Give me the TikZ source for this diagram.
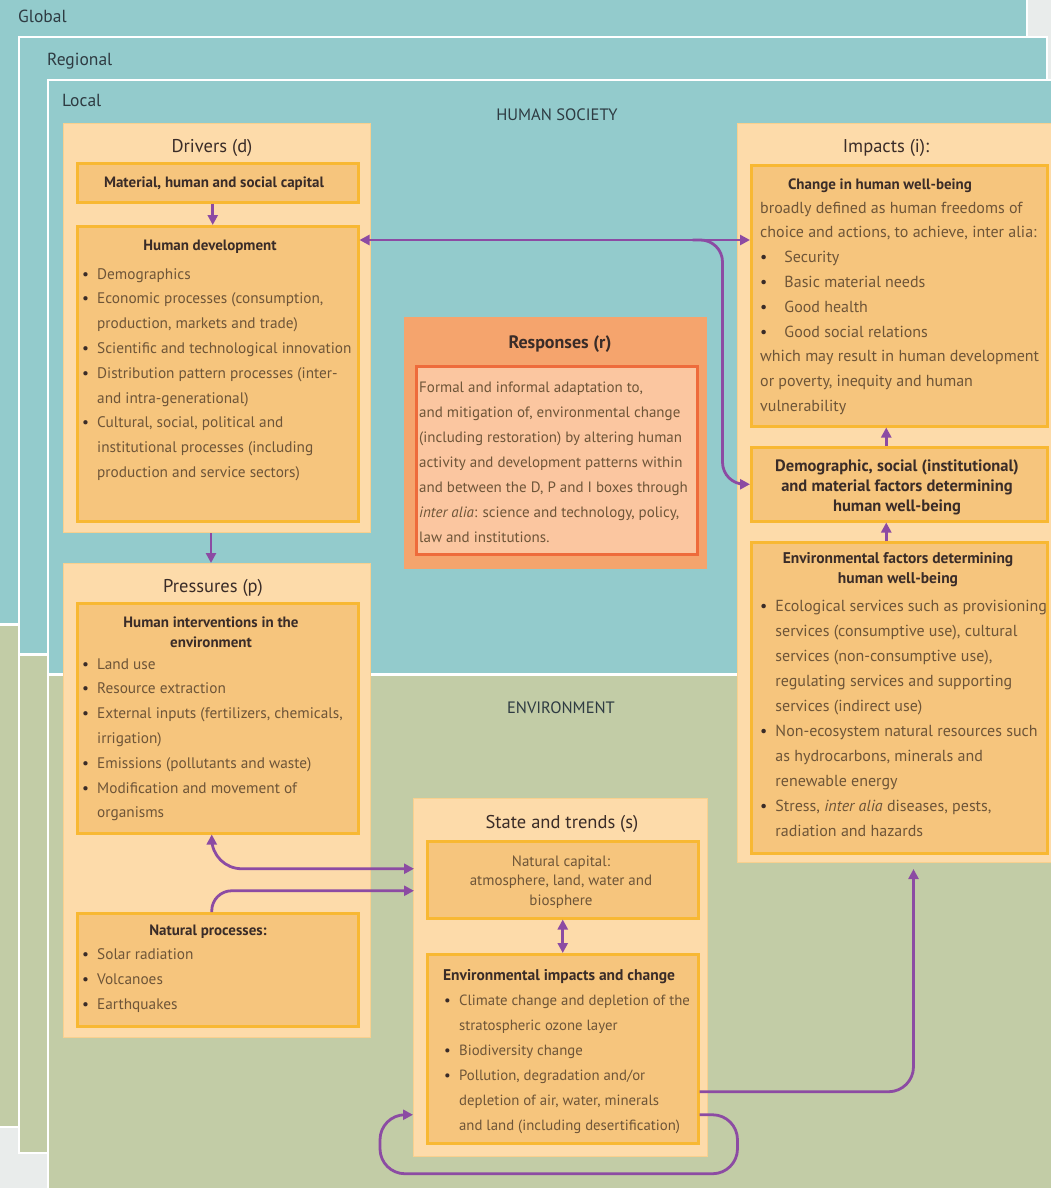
\documentclass[tikz,border=0pt]{standalone}
\usepackage{fontspec}
\setmainfont{PT Sans}
\usetikzlibrary{arrows.meta,calc}
\definecolor{teal1}{HTML}{93CBCC}
\definecolor{green1}{HTML}{C2CCA6}
\definecolor{bgg}{HTML}{E9ECEB}
\definecolor{peach}{HTML}{FDDBAA}
\definecolor{peachb}{HTML}{F9D08E}
\definecolor{inner}{HTML}{F6C57D}
\definecolor{innerb}{HTML}{F8B833}
\definecolor{rout}{HTML}{F5A46D}
\definecolor{rin}{HTML}{FBC6A0}
\definecolor{rinb}{HTML}{EE6B3B}
\definecolor{purp}{HTML}{8C4BA3}
\definecolor{ttl}{HTML}{3A2C28}
\definecolor{bod}{HTML}{6E5538}
\definecolor{lbl}{HTML}{2E3B42}
\newcommand\bodyf{\fontsize{15.3}{24.8}\selectfont}
\newcommand\headf{\fontsize{18.5}{20}\selectfont}
\newcommand\boldf{\fontsize{15}{20}\selectfont\bfseries}
\newcommand\bl[1][15pt]{\makebox[#1][l]{\textcolor{ttl}{\textbullet}}}
\newcommand\ind[1][15pt]{\hspace*{#1}}
\begin{document}
\begin{tikzpicture}[x=1pt,y=-1pt,
 outerbox/.style={draw=peachb, fill=peach, line width=1pt, anchor=north west, inner sep=0pt},
 innerbox/.style={draw=innerb, fill=inner, line width=2.5pt, anchor=north west, inner sep=0pt},
 conn/.style={draw=purp, line width=2.8pt, -{Triangle[length=10pt,width=10pt]}},
 conn2/.style={draw=purp, line width=2.8pt, {Triangle[length=10pt,width=10pt]}-{Triangle[length=10pt,width=10pt]}},
 body/.style={font=\bodyf, text=bod, align=left, anchor=base west, inner sep=0pt},
 head/.style={font=\headf, text=ttl, anchor=base, inner sep=0pt},
 bhead/.style={font=\boldf, text=ttl, align=center, anchor=base, inner sep=0pt},
 lab/.style={font=\fontsize{17.5}{18}\selectfont, text=lbl, anchor=base west, inner sep=0pt}
]
\useasboundingbox (0,0) rectangle (1051,1188);
\clip (0,0) rectangle (1051,1188);
\fill[bgg] (0,0) rectangle (1051,1188);
% Global
\fill[teal1] (-5,-5) rectangle (1027,624);
\fill[green1] (-5,624) rectangle (1027,1127);
\draw[white, line width=3pt] (-5,624) -- (1027,624);
\draw[white, line width=2.5pt] (-5,-5) rectangle (1027,1127);
% Regional
\fill[teal1] (19,37) rectangle (1047,654);
\fill[green1] (19,654) rectangle (1047,1153);
\draw[white, line width=3pt] (19,654) -- (1047,654);
\draw[white, line width=2.5pt] (19,37) rectangle (1047,1153);
% Local
\fill[teal1] (48,80) rectangle (1060,674);
\fill[green1] (48,674) rectangle (1060,1195);
\draw[white, line width=3pt] (48,674) -- (1060,674);
\draw[white, line width=2.5pt] (48,80) rectangle (1060,1195);
\node[lab] (lg) at (18,23) {Global};
\node[lab] (lr) at (47,66) {Regional};
\node[lab] (ll) at (62,107) {Local};
\node[font=\fontsize{16.5}{18}\selectfont, text=lbl, anchor=base] (hs) at (557,121) {HUMAN SOCIETY};
\node[font=\fontsize{16.5}{18}\selectfont, text=lbl, anchor=base] (en) at (561,713) {ENVIRONMENT};
% outer boxes
\node[outerbox, minimum width=307pt, minimum height=409pt] (drv) at (63,123) {};
\node[outerbox, minimum width=307pt, minimum height=474pt] (prs) at (63,563) {};
\node[outerbox, minimum width=330pt, minimum height=739pt] (imp) at (737,123) {};
\node[outerbox, minimum width=294pt, minimum height=358pt] (st) at (413,798) {};
\node[draw=rout, fill=rout, line width=1pt, anchor=north west, inner sep=0pt, minimum width=302pt, minimum height=251pt] (resp) at (404,317) {};
% inner boxes
\node[innerbox, minimum width=281pt, minimum height=39pt] (mat) at (76,162) {};
\node[innerbox, minimum width=281pt, minimum height=295pt] (hd) at (76,225) {};
\node[innerbox, minimum width=281pt, minimum height=230pt] (hi) at (76,602) {};
\node[innerbox, minimum width=281pt, minimum height=113pt] (np) at (76,912) {};
\node[draw=rinb, fill=rin, line width=2.5pt, anchor=north west, inner sep=0pt, minimum width=281pt, minimum height=188pt] (resi) at (415,365) {};
\node[innerbox, minimum width=296pt, minimum height=261pt] (chg) at (750,164) {};
\node[innerbox, minimum width=296pt, minimum height=74pt] (dem) at (750,446) {};
\node[innerbox, minimum width=296pt, minimum height=311pt] (envf) at (750,541) {};
\node[innerbox, minimum width=271pt, minimum height=77pt] (nc) at (426,840) {};
\node[innerbox, minimum width=271pt, minimum height=189pt] (eic) at (426,953) {};
% titles (multi-line nodes are anchored at the baseline of their last line)
\node[head] (tdrv) at (212,153) {Drivers (d)};
\node[head] (tprs) at (213,592) {Pressures (p)};
\node[head] (timp) at (886,153) {Impacts (i):};
\node[head] (tst) at (562,828) {State and trends (s)};
\node[head, font=\fontsize{18}{20}\selectfont\bfseries] (tresp) at (560,348) {Responses (r)};
\node[bhead] (tmat) at (214,187) {Material, human and social capital};
\node[bhead] (thd) at (210,250) {Human development};
\node[bhead] (thi) at (211,647) {Human interventions in the\\environment};
\node[bhead] (tnp) at (208,935) {Natural processes:};
\node[bhead] (tchg) at (880,189) {Change in human well-being};
\node[bhead, font=\fontsize{16.5}{20}\selectfont\bfseries] (tdem) at (897,511) {Demographic, social (institutional)\\and material factors determining\\human well-being};
\node[bhead, font=\fontsize{15.5}{20}\selectfont\bfseries] (tenvf) at (898,583) {Environmental factors determining\\human well-being};
\node[bhead, font=\fontsize{15.5}{20}\selectfont\bfseries] (teic) at (559,980) {Environmental impacts and change};
\node[font=\fontsize{15}{19.5}\selectfont, text=bod, align=center, anchor=base, inner sep=0pt] (tnc) at (561,905) {Natural capital:\\atmosphere, land, water and\\biosphere};
% body texts
\node[body] (bhd) at (82,477.4) {\bl Demographics\\
\bl Economic processes (consumption,\\
\ind production, markets and trade)\\
\bl Scientific and technological innovation\\
\bl Distribution pattern processes (inter-\\
\ind and intra-generational)\\
\bl Cultural, social, political and\\
\ind institutional processes (including\\
\ind production and service sectors)};
\node[body] (bhi) at (82,817.8) {\bl Land use\\
\bl Resource extraction\\
\bl External inputs (fertilizers, chemicals,\\
\ind irrigation)\\
\bl Emissions (pollutants and waste)\\
\bl Modification and movement of\\
\ind organisms};
\node[body, font=\fontsize{15.3}{25}\selectfont] (bnp) at (82,1009) {\bl Solar radiation\\
\bl Volcanoes\\
\bl Earthquakes};
\node[body, font=\fontsize{15}{25}\selectfont] (bresp) at (419,542) {Formal and informal adaptation to,\\
and mitigation of, environmental change\\
(including restoration) by altering human\\
activity and development patterns within\\
and between the D, P and I boxes through\\
\textit{inter alia}: science and technology, policy,\\
law and institutions.};
\node[body, font=\fontsize{16}{24.8}\selectfont] (bchg) at (760,411.4) {broadly defined as human freedoms of\\
choice and actions, to achieve, inter alia:\\
\bl[20pt] Security\\
\bl[20pt] Basic material needs\\
\bl[20pt] Good health\\
\bl[20pt] Good social relations\\
which may result in human development\\
or poverty, inequity and human\\
vulnerability};
\node[body, font=\fontsize{16}{25.1}\selectfont] (benvf) at (760,836.9) {\bl[11pt] Ecological services such as provisioning\\
\ind[11pt] services (consumptive use), cultural\\
\ind[11pt] services (non-consumptive use),\\
\ind[11pt] regulating services and supporting\\
\ind[11pt] services (indirect use)\\
\bl[11pt] Non-ecosystem natural resources such\\
\ind[11pt] as hydrocarbons, minerals and\\
\ind[11pt] renewable energy\\
\bl[11pt] Stress, \textit{inter alia} diseases, pests,\\
\ind[11pt] radiation and hazards};
\node[body, font=\fontsize{14.8}{25}\selectfont] (beic) at (444,1130) {\bl[11pt] Climate change and depletion of the\\
\ind[11pt] stratospheric ozone layer\\
\bl[11pt] Biodiversity change\\
\bl[11pt] Pollution, degradation and/or\\
\ind[11pt] depletion of air, water, minerals\\
\ind[11pt] and land (including desertification)};
% connectors
\draw[conn] ($(mat.south)+(-5,0)$) -- ($(hd.north)+(-5,0)$);
\draw[conn] ($(drv.south)+(-6,0)$) -- ($(prs.north)+(-6,0)$);
\draw[conn2] ($(hd.north east)+(0,15)$) -- ($(chg.north west)+(0,76)$);
\coordinate (br) at ($(hd.north east)+(333,15)$);
\draw[conn, rounded corners=22pt] (br) -- ++(30,0) |- (dem.west);
\draw[conn2, rounded corners=30pt] ($(hi.south)+(-6,0)$) |- ($(nc.west)+(-12,-11)$);
\draw[conn, rounded corners=20pt] ($(np.north)+(-6,0)$) |- ($(nc.west)+(-12,11)$);
\draw[conn2] (nc.south) -- (eic.north);
\draw[conn] ($(dem.north)+(-13,0)$) -- ($(chg.south)+(-13,0)$);
\draw[conn] ($(envf.north)+(-13,0)$) -- ($(dem.south)+(-13,0)$);
\draw[conn, rounded corners=25pt] ($(eic.east)+(0,43)$) -| ($(imp.south)+(11,6)$);
\draw[conn, rounded corners=25pt] ($(eic.east)+(0,66)$) -- ++(38,0) -- ++(0,59) -| ($(eic.west)+(-46,66)$) -- ($(eic.west)+(-13,66)$);
\end{tikzpicture}
\end{document}
